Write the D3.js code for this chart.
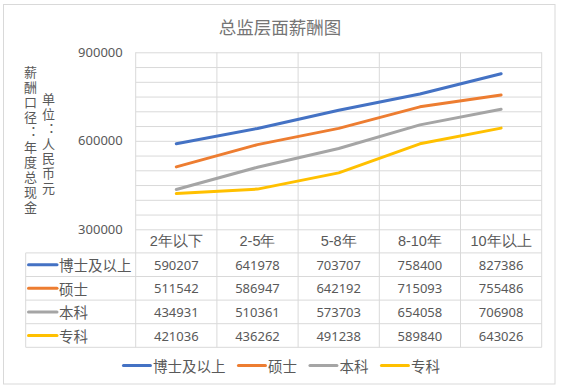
<!DOCTYPE html>
<html>
<head>
<meta charset="utf-8">
<script src="https://cdn.jsdelivr.net/npm/d3@7/dist/d3.min.js"></script>
<style>
  body { margin: 0; background: #fff; }
  svg { display: block; font-family: "Noto Sans CJK SC", "Noto Sans", sans-serif; }
</style>
</head>
<body>
<svg id="chart"></svg>
<script>
'use strict';

const categories = ['2年以下', '2-5年', '5-8年', '8-10年', '10年以上'];
const seriesNames = ['博士及以上', '硕士', '本科', '专科'];
const phdValues = [590207, 641978, 703707, 758400, 827386];
const masterValues = [511542, 586947, 642192, 715093, 755486];
const bachelorValues = [434931, 510361, 573703, 654058, 706908];
const collegeValues = [421036, 436262, 491238, 589840, 643026];
const seriesColors = ['#4472C4', '#ED7D31', '#A5A5A5', '#FFC000'];
const yTickLabels = [300000, 600000, 900000];
const yDomain = [300000, 900000];
const titleText = '总监层面薪酬图';
const yTitleOuter = '薪酬口径：年度总现金';
const yTitleInner = '单位：人民币元';

const series = seriesNames.map((name, i) => ({
  name: name,
  color: seriesColors[i],
  values: [phdValues, masterValues, bachelorValues, collegeValues][i]
}));

const W = 563, H = 389;
const plot = { left: 135.7, right: 541.7, top: 52.3, bottom: 229.3 };
const rowH = 23.6;
const tableLeft = 25.7;
const gridColor = '#D9D9D9';
const textColor = '#595959';

const svg = d3.select('#chart').attr('width', W).attr('height', H);

// chart border
svg.append('rect')
  .attr('x', 3.5).attr('y', 4.5)
  .attr('width', 551.5).attr('height', 379.5)
  .attr('fill', '#fff')
  .attr('stroke', gridColor);

svg.append('text')
  .attr('x', 280).attr('y', 26)
  .attr('text-anchor', 'middle')
  .attr('dominant-baseline', 'central')
  .attr('fill', '#757575')
  .style('font-size', '17.5px')
  .text(titleText);

const x = d3.scaleBand().domain(categories).range([plot.left, plot.right]);
const y = d3.scaleLinear().domain(yDomain).range([plot.bottom, plot.top]);

// horizontal gridlines every 50000
svg.append('g')
  .attr('transform', 'translate(' + plot.left + ',0)')
  .call(d3.axisLeft(y).ticks(12).tickSize(-(plot.right - plot.left)).tickFormat(''))
  .call(g => g.select('.domain').remove())
  .call(g => g.selectAll('line').attr('stroke', gridColor));

// y tick labels
svg.append('g')
  .attr('transform', 'translate(' + (plot.left - 13) + ',0)')
  .call(d3.axisLeft(y).tickValues(yTickLabels).tickSize(0).tickPadding(0).tickFormat(d3.format('d')))
  .call(g => g.select('.domain').remove())
  .call(g => g.selectAll('text')
    .attr('fill', textColor)
    .style('font-size', '13px')
    .style('font-family', '"Noto Sans", sans-serif'));

const tableRows = series.length;
const tableBottom = plot.bottom + rowH * (tableRows + 1);

// vertical lines through plot and table
const vx = categories.map(c => x(c)).concat([x.range()[1]]);
svg.append('g').selectAll('line')
  .data(vx)
  .join('line')
  .attr('x1', d => d).attr('x2', d => d)
  .attr('y1', plot.top).attr('y2', tableBottom)
  .attr('stroke', gridColor);

// horizontal table lines
svg.append('g').selectAll('line')
  .data(d3.range(tableRows + 1))
  .join('line')
  .attr('x1', tableLeft).attr('x2', plot.right)
  .attr('y1', i => plot.bottom + rowH * (i + 1))
  .attr('y2', i => plot.bottom + rowH * (i + 1))
  .attr('stroke', gridColor);
svg.append('line')
  .attr('x1', tableLeft).attr('x2', tableLeft)
  .attr('y1', plot.bottom + rowH).attr('y2', tableBottom)
  .attr('stroke', gridColor);

// category labels (header row)
svg.append('g')
  .attr('transform', 'translate(0,' + plot.bottom + ')')
  .call(d3.axisBottom(x).tickSize(0).tickPadding(0))
  .call(g => g.select('.domain').remove())
  .call(g => g.selectAll('text')
    .attr('y', rowH / 2).attr('dy', null)
    .attr('dominant-baseline', 'central')
    .attr('fill', textColor)
    .style('font-size', '14.5px'));

// lines
const line = d3.line()
  .x((d, i) => x(categories[i]) + x.bandwidth() / 2)
  .y(d => y(d));

svg.append('g').selectAll('path')
  .data(series)
  .join('path')
  .attr('d', d => line(d.values))
  .attr('fill', 'none')
  .attr('stroke', d => d.color)
  .attr('stroke-width', 3)
  .attr('stroke-linejoin', 'round')
  .attr('stroke-linecap', 'round');

// data table rows
const rows = svg.append('g').selectAll('g')
  .data(series)
  .join('g')
  .attr('transform', (d, i) => 'translate(0,' + (plot.bottom + rowH * (i + 1.5)) + ')');

rows.append('line')
  .attr('x1', 28.5).attr('x2', 57)
  .attr('stroke', d => d.color)
  .attr('stroke-width', 3)
  .attr('stroke-linecap', 'round');

rows.append('text')
  .attr('x', 59)
  .attr('dominant-baseline', 'central')
  .attr('fill', textColor)
  .style('font-size', '14.5px')
  .text(d => d.name);

rows.selectAll('.val')
  .data(d => d.values)
  .join('text')
  .attr('class', 'val')
  .attr('x', (d, i) => x(categories[i]) + x.bandwidth() / 2)
  .attr('text-anchor', 'middle')
  .attr('dominant-baseline', 'central')
  .attr('fill', textColor)
  .style('font-size', '13px')
  .style('font-family', '"Noto Sans", sans-serif')
  .text(d => d);

// vertical y titles, stacked upright characters
function stacked(str, cx, cy, spacing) {
  svg.append('text')
    .attr('x', cx)
    .attr('y', cy)
    .attr('text-anchor', 'middle')
    .attr('fill', textColor)
    .style('writing-mode', 'vertical-rl')
    .style('text-orientation', 'upright')
    .style('font-feature-settings', '"vert" 0')
    .style('letter-spacing', spacing + 'px')
    .style('font-size', '13px')
    .text(str);
}
stacked(yTitleOuter, 30.5, 141, 2);
stacked(yTitleInner, 48.5, 144.5, 1.8);

// bottom legend
const legend = svg.append('g');
let lx = 0;
series.forEach(s => {
  const item = legend.append('g').attr('transform', 'translate(' + lx + ',0)');
  item.append('line')
    .attr('x1', 0).attr('x2', 27)
    .attr('stroke', s.color)
    .attr('stroke-width', 3)
    .attr('stroke-linecap', 'round');
  const t = item.append('text')
    .attr('x', 29.5)
    .attr('dominant-baseline', 'central')
    .attr('fill', textColor)
    .style('font-size', '14.5px')
    .text(s.name);
  lx += 29.5 + t.node().getComputedTextLength() + 13;
});
lx -= 13;
legend.attr('transform', 'translate(' + (281.7 - lx / 2) + ',365.5)');
</script>
</body>
</html>
